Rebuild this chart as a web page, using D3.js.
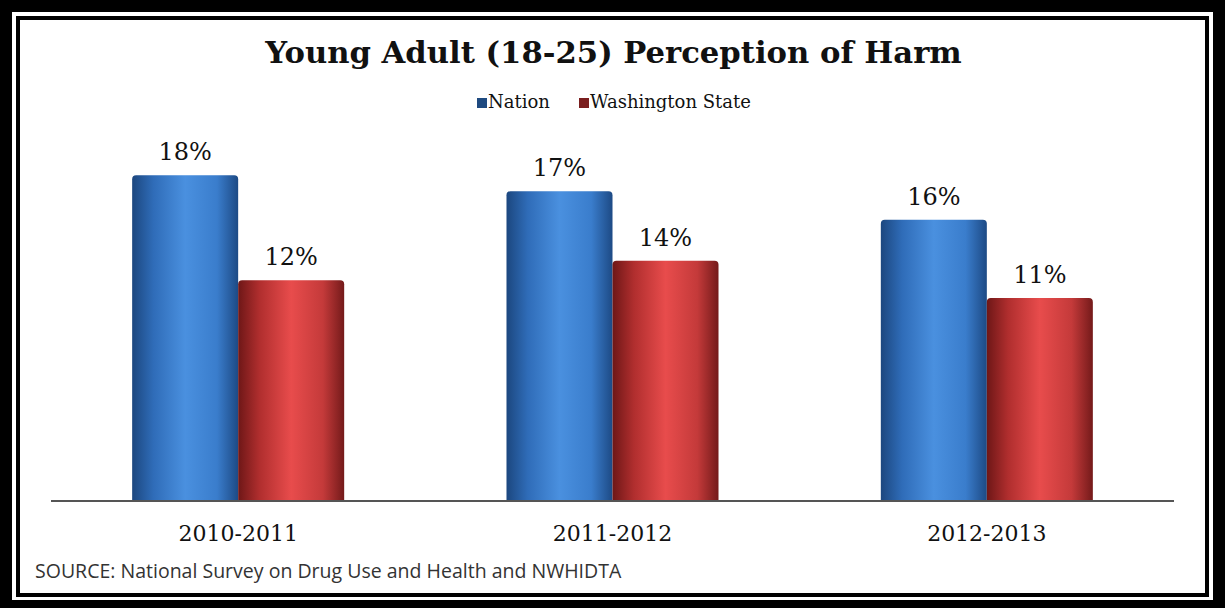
<!DOCTYPE html>
<html><head><meta charset="utf-8">
<script src="https://cdn.jsdelivr.net/npm/d3@7"></script>
<style>body{margin:0;background:#fff}svg{display:block}</style>
</head><body>
<svg id="c" width="1225" height="608"></svg>
<script>
const categories = ["2010-2011", "2011-2012", "2012-2013"];
const seriesNames = ["Nation", "Washington State"];
const nation = [18.3, 17.4, 15.8];
const washington = [12.4, 13.5, 11.4];
const titleText = "Young Adult (18-25) Perception of Harm";
const sourceText = "SOURCE: National Survey on Drug Use and Health and NWHIDTA";

const svg = d3.select("#c");
const W = 1225, H = 608;
const serif = "'DejaVu Serif', Georgia, serif";

// frame
svg.append("rect").attr("width", W).attr("height", H).attr("fill", "#000");
svg.append("rect").attr("x", 12).attr("y", 12).attr("width", 1201).attr("height", 588).attr("fill", "#fff");
svg.append("rect").attr("x", 18).attr("y", 18).attr("width", 1189).attr("height", 577)
  .attr("fill", "#fff").attr("stroke", "#000").attr("stroke-width", 4);

function fit(sel, w) {
  const n = sel.node();
  const fs = parseFloat(sel.attr("font-size"));
  const cw = n.getComputedTextLength();
  sel.attr("font-size", fs * w / cw);
}

// gradients
const defs = svg.append("defs");
const palettes = [
  ["#1c477f", "#2f6cb8", "#4a90df", "#3a7dcc", "#1d4a85"],
  ["#6e1717", "#b02e2e", "#e84c4c", "#c43a3a", "#741a1a"]
];
palettes.forEach((p, i) => {
  const g = defs.append("linearGradient").attr("id", "g" + i).attr("x1", 0).attr("x2", 1).attr("y1", 0).attr("y2", 0);
  [0, 0.2, 0.5, 0.8, 1].forEach((o, k) => g.append("stop").attr("offset", o).attr("stop-color", p[k]));
});

const x0 = d3.scaleBand().domain(categories).range([51, 1174]).paddingInner(0.4336).paddingOuter(0.2168);
const x1 = d3.scaleBand().domain(seriesNames).range([0, x0.bandwidth()]);
const y = d3.scaleLinear().domain([0, 20]).range([501, 145]);

const data = categories.map((c, i) => ({ cat: c, vals: [nation[i], washington[i]] }));

const groups = svg.append("g").selectAll("g").data(data).join("g")
  .attr("transform", d => `translate(${x0(d.cat)},0)`);

function barPath(x, yTop, w, yBase) {
  const r = 4;
  return `M${x},${yBase}V${yTop + r}Q${x},${yTop} ${x + r},${yTop}H${x + w - r}Q${x + w},${yTop} ${x + w},${yTop + r}V${yBase}Z`;
}

groups.each(function (d) {
  const g = d3.select(this);
  d.vals.forEach((v, si) => {
    const bx = x1(seriesNames[si]);
    const bw = x1.bandwidth();
    g.append("path").attr("d", barPath(bx, y(v), bw, y(0))).attr("fill", `url(#g${si})`);
    g.append("text").attr("x", bx + bw / 2).attr("y", y(v) - 15)
      .attr("text-anchor", "middle").attr("font-family", serif).attr("font-size", 24)
      .attr("fill", "#111").text(Math.round(v) + "%");
  });
});

// baseline
svg.append("line").attr("x1", 51).attr("x2", 1174).attr("y1", 501).attr("y2", 501)
  .attr("stroke", "#555").attr("stroke-width", 2);

// x labels
const xAxis = d3.axisBottom(x0).tickSize(0).tickPadding(0);
const ax = svg.append("g").attr("transform", "translate(0,541)").call(xAxis);
ax.select(".domain").remove();
ax.selectAll("text").attr("dy", 0).attr("font-family", serif).attr("font-size", 22).attr("fill", "#111");

// title
const t = svg.append("text").attr("x", 613.5).attr("y", 63).attr("text-anchor", "middle")
  .attr("font-family", serif).attr("font-weight", "bold").attr("font-size", 30).attr("fill", "#111").text(titleText);
fit(t, 697);

// legend
const leg = [{ x: 477, i: 0 }, { x: 579, i: 1 }];
const legColors = ["#1f4a80", "#7a1e1e"];
leg.forEach(l => {
  svg.append("rect").attr("x", l.x).attr("y", 98).attr("width", 10).attr("height", 10).attr("fill", legColors[l.i]);
  svg.append("text").attr("x", l.x + 11).attr("y", 108).attr("font-family", serif).attr("font-size", 18)
    .attr("fill", "#111").text(seriesNames[l.i]);
});

// source
const s = svg.append("text").attr("x", 35).attr("y", 578).attr("font-family", "'Open Sans', sans-serif")
  .attr("font-size", 19).attr("fill", "#333").text(sourceText);
fit(s, 587);
</script>
</body></html>
